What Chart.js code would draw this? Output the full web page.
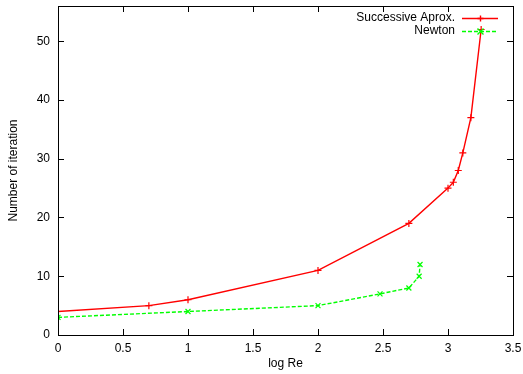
<!DOCTYPE html>
<html><head><meta charset="utf-8">
<script src="https://cdn.jsdelivr.net/npm/chart.js@4"></script>
<style>html,body{margin:0;padding:0;background:#fff}#wrap{width:523px;height:374px}</style>
</head><body><div id="wrap"><canvas id="c" width="523" height="374"></canvas></div>
<script>
const succX = [0, 0.699, 1, 2, 2.699, 3, 3.041, 3.079, 3.114, 3.176, 3.255];
const succY = [4, 5, 6, 11, 19, 25, 26, 28, 31, 37, 52];
const newtonX = [0, 1, 2, 2.477, 2.699, 2.778, 2.785];
const newtonY = [3, 4, 5, 7, 8, 10, 12];
const seriesNames = ["Successive Aprox.", "Newton"];
const seriesColors = ["#ff0000", "#00ff00"];
const xTitle = "log Re";
const yTitle = "Number of iteration";
const FONT = "Liberation Sans, Arial, sans-serif";
const LW = 1.4;

const framePlugin = {
  id: 'frame',
  afterDatasetsDraw(chart) {
    const ctx = chart.ctx, a = chart.chartArea;
    const xs = chart.scales.x, ys = chart.scales.y;
    ctx.save();
    ctx.strokeStyle = '#000'; ctx.lineWidth = 1;
    ctx.strokeRect(Math.round(a.left) + 0.5, Math.round(a.top) + 0.5, Math.round(a.right - a.left), Math.round(a.bottom - a.top));
    const tl = 6;
    ctx.beginPath();
    xs.ticks.forEach(t => {
      const px = Math.round(xs.getPixelForValue(t.value)) + 0.5;
      ctx.moveTo(px, a.bottom); ctx.lineTo(px, a.bottom - tl);
      ctx.moveTo(px, a.top); ctx.lineTo(px, a.top + tl);
    });
    ys.ticks.forEach(t => {
      const py = Math.round(ys.getPixelForValue(t.value)) + 0.5;
      ctx.moveTo(a.left, py); ctx.lineTo(a.left + tl, py);
      ctx.moveTo(a.right, py); ctx.lineTo(a.right - tl, py);
    });
    ctx.stroke();
    // axis titles
    ctx.fillStyle = '#000';
    ctx.font = '12px ' + FONT;
    ctx.textAlign = 'center'; ctx.textBaseline = 'middle';
    ctx.fillText(xTitle, (a.left + a.right) / 2, 364);
    ctx.save();
    ctx.translate(14, (a.top + a.bottom) / 2);
    ctx.rotate(-Math.PI / 2);
    ctx.fillText(yTitle, 0, 0);
    ctx.restore();
    // legend
    const rows = [18, 31];
    seriesNames.forEach((name, i) => {
      const y = rows[i];
      ctx.textAlign = 'right';
      ctx.fillStyle = '#000';
      ctx.fillText(name, 455, y);
      ctx.strokeStyle = seriesColors[i];
      ctx.lineWidth = LW;
      ctx.setLineDash(i === 1 ? [4, 2] : []);
      ctx.beginPath(); ctx.moveTo(462, y + 0.5); ctx.lineTo(498, y + 0.5); ctx.stroke();
      ctx.setLineDash([]);
      ctx.beginPath();
      const cx = 480.5, r = 3;
      if (i === 0) {
        ctx.moveTo(cx - r, y + 0.5); ctx.lineTo(cx + r, y + 0.5);
        ctx.moveTo(cx, y + 0.5 - r); ctx.lineTo(cx, y + 0.5 + r);
      } else {
        ctx.moveTo(cx - r, y + 0.5 - r); ctx.lineTo(cx + r, y + 0.5 + r);
        ctx.moveTo(cx - r, y + 0.5 + r); ctx.lineTo(cx + r, y + 0.5 - r);
      }
      ctx.stroke();
    });
    ctx.restore();
  }
};

function zeroPad(s) { s.paddingTop = 0; s.paddingBottom = 0; s.paddingLeft = 0; s.paddingRight = 0; }

new Chart(document.getElementById('c'), {
  type: 'scatter',
  data: {
    datasets: [
      { label: seriesNames[0], data: succX.map((x, i) => ({x, y: succY[i]})), showLine: true,
        borderColor: seriesColors[0], backgroundColor: seriesColors[0], borderWidth: LW, pointStyle: 'cross',
        pointRadius: 3.5, pointBorderWidth: 1.2, tension: 0 },
      { label: seriesNames[1], data: newtonX.map((x, i) => ({x, y: newtonY[i]})), showLine: true,
        borderColor: seriesColors[1], backgroundColor: seriesColors[1], borderWidth: LW, borderDash: [4, 2], pointStyle: 'crossRot',
        pointRadius: 3.5, pointBorderWidth: 1.2, tension: 0 }
    ]
  },
  options: {
    responsive: false, animation: false, devicePixelRatio: 1,
    layout: { padding: { left: 0, top: 6, right: 10, bottom: 0 } },
    plugins: { legend: { display: false }, tooltip: { enabled: false } },
    scales: {
      x: { type: 'linear', min: 0, max: 3.5,
        ticks: { stepSize: 0.5, color: '#000', font: { family: FONT, size: 12 }, padding: 6, maxRotation: 0,
          callback: v => String(v) },
        grid: { display: false, drawTicks: false }, border: { display: false },
        afterFit(s) { s.height = 39; zeroPad(s); } },
      y: { type: 'linear', min: 0, max: 56,
        ticks: { stepSize: 10, color: '#000', font: { family: FONT, size: 12 }, padding: 8 },
        afterBuildTicks(s) { s.ticks = s.ticks.filter(t => t.value % 10 === 0); },
        grid: { display: false, drawTicks: false }, border: { display: false },
        afterFit(s) { s.width = 58; zeroPad(s); } }
    }
  },
  plugins: [framePlugin]
});
</script></body></html>
